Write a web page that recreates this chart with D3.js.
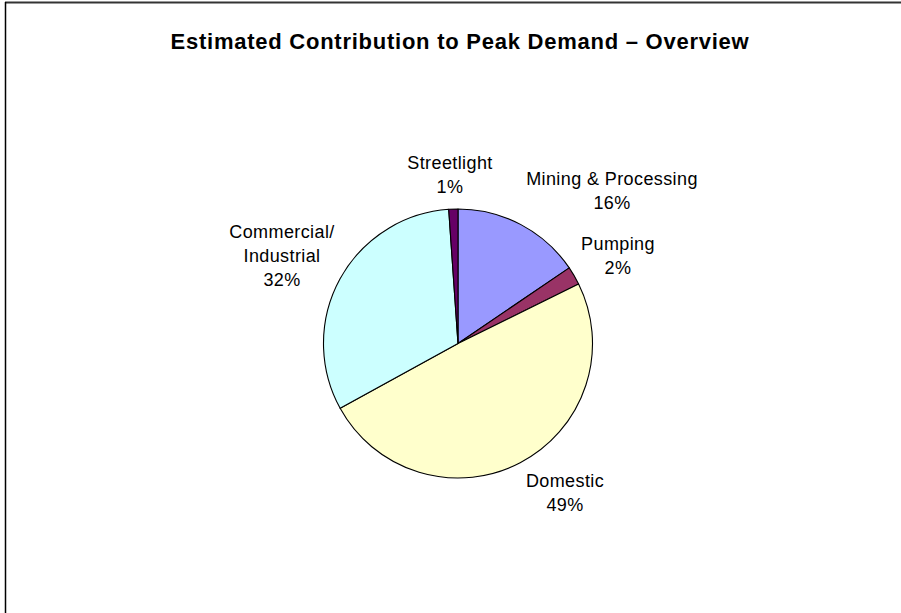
<!DOCTYPE html>
<html>
<head>
<meta charset="utf-8">
<script src="https://cdn.jsdelivr.net/npm/d3@7"></script>
<style>
html,body{margin:0;padding:0;background:#fff;}
svg{display:block;}
text{font-family:"Liberation Sans",Arial,Helvetica,sans-serif;fill:#000;}
</style>
</head>
<body>
<svg id="chart" width="901" height="613"></svg>
<script>
const categories = ["Mining & Processing", "Pumping", "Domestic", "Commercial/Industrial", "Streetlight"];
const values = [15.5, 2.2, 49.3, 31.9, 1.1];
const percentLabels = ["16%", "2%", "49%", "32%", "1%"];
const labelLines = [["Mining & Processing"], ["Pumping"], ["Domestic"], ["Commercial/", "Industrial"], ["Streetlight"]];
const colors = ["#9999FF", "#993366", "#FFFFCC", "#CCFFFF", "#660066"];
const title = "Estimated Contribution to Peak Demand \u2013 Overview";

// label offsets from pie centre (layout only)
const labelOffsets = [[154, -146.5], [160, -81.5], [107, 155.5], [-176, -82], [-8, -163]];

const svg = d3.select("#chart");
const W = 901, H = 613;
const cx = 458, cy = 343.5, R = 134.5;

// frame
svg.append("line").attr("x1", 5).attr("y1", 2.5).attr("x2", W).attr("y2", 2.5)
  .attr("stroke", "#333").attr("stroke-width", 2);
svg.append("line").attr("x1", 5.5).attr("y1", 2).attr("x2", 5.5).attr("y2", H)
  .attr("stroke", "#000").attr("stroke-width", 1.5);

svg.append("text").attr("x", 460).attr("y", 49)
  .attr("text-anchor", "middle").attr("font-weight", "bold").attr("font-size", 22)
  .attr("letter-spacing", 0.75)
  .text(title);

const data = categories.map((c, i) => ({name: c, value: values[i], pct: percentLabels[i], lines: labelLines[i], color: colors[i]}));

const pie = d3.pie().sort(null).value(d => d.value);
const arc = d3.arc().innerRadius(0).outerRadius(R);
const arcs = pie(data);

const g = svg.append("g").attr("transform", `translate(${cx},${cy})`);
g.selectAll("path").data(arcs).enter().append("path")
  .attr("d", arc).attr("fill", d => d.data.color)
  .attr("stroke", "#000").attr("stroke-width", 1.1).attr("stroke-linejoin", "round");

const lineH = 24;
arcs.forEach((a, i) => {
  const [lx, ly] = labelOffsets[i];
  const lines = a.data.lines.concat([a.data.pct]);
  const t = g.append("text").attr("text-anchor", "middle").attr("font-size", 18)
    .attr("letter-spacing", 0.4);
  const y0 = ly - (lines.length - 1) * lineH / 2;
  lines.forEach((ln, k) => {
    t.append("tspan").attr("x", lx).attr("y", y0 + k * lineH).text(ln);
  });
});
</script>
</body>
</html>
